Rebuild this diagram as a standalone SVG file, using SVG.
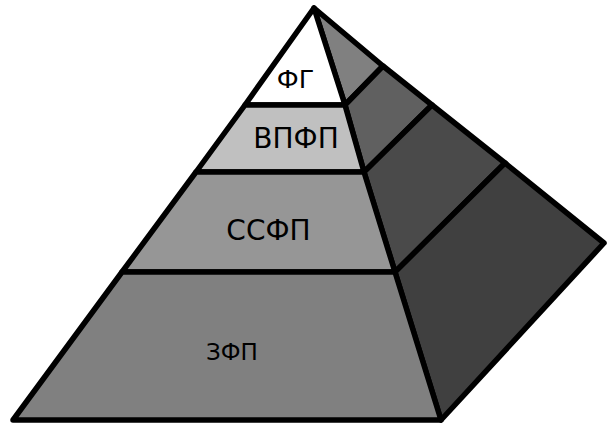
<svg xmlns="http://www.w3.org/2000/svg" width="607" height="423" viewBox="0 0 607 423">
<style>
.f{stroke:#000;stroke-width:5.5;stroke-linejoin:round}
.t{font-family:"DejaVu Sans",sans-serif;fill:#000;text-anchor:middle}
</style>
<rect width="607" height="423" fill="#fff"/>
<g id="side">
<polygon class="f" fill="#808080" points="314,8 383,66 345,105"/>
<polygon class="f" fill="#606060" points="345,105 383,66 432,105 364,172"/>
<polygon class="f" fill="#4a4a4a" points="364,172 432,105 505,163 395,272"/>
<polygon class="f" fill="#404040" points="395,272 505,163 604,243 441,420"/>
</g>
<g id="fg">
<polygon class="f" fill="#ffffff" points="314,8 345,105 245,105"/>
<text class="t" x="295.5" y="88" font-size="25.5">ФГ</text>
</g>
<g id="vpfp">
<polygon class="f" fill="#c0c0c0" points="245,105 345,105 364,172 196,172"/>
<text class="t" x="296" y="148" font-size="28">ВПФП</text>
</g>
<g id="ssfp">
<polygon class="f" fill="#969696" points="196,172 364,172 395,272 122,272"/>
<text class="t" x="268.5" y="240" font-size="28">ССФП</text>
</g>
<g id="zfp">
<polygon class="f" fill="#808080" points="122,272 395,272 441,420 13,420"/>
<text class="t" x="232" y="360" font-size="23">ЗФП</text>
</g>
</svg>
